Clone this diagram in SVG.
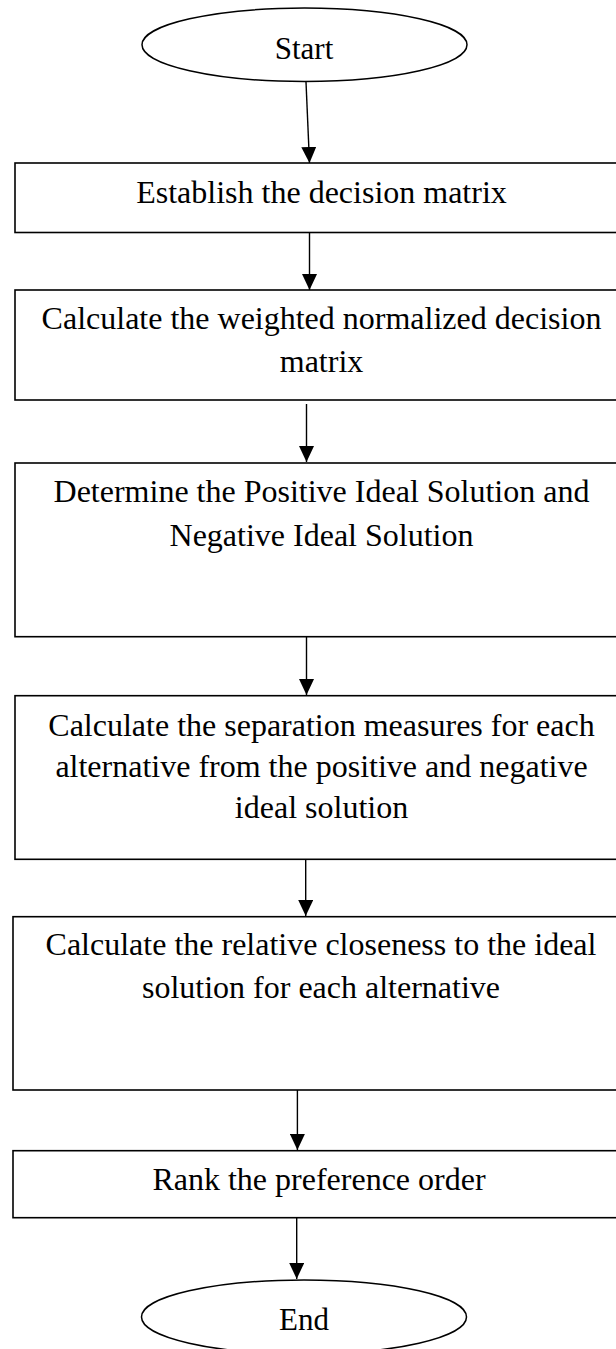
<svg xmlns="http://www.w3.org/2000/svg" width="616" height="1349" viewBox="0 0 616 1349">
<style>
.box{fill:#fff;stroke:#000;stroke-width:1.6}
.term{fill:#fff;stroke:#000;stroke-width:1.5}
.t{font-family:"Liberation Serif","Times New Roman",serif;font-size:32px;fill:#000;text-anchor:middle}
.te{font-family:"Liberation Serif","Times New Roman",serif;font-size:31px;fill:#000;text-anchor:middle}
.conn{stroke:#000;stroke-width:1.4;fill:none;marker-end:url(#ah)}
</style>
<defs>
<marker id="ah" markerUnits="userSpaceOnUse" markerWidth="16" markerHeight="15" refX="16" refY="7.5" orient="auto">
<path d="M0,0 L16,7.5 L0,15 z" fill="#000"/>
</marker>
</defs>
<rect width="616" height="1349" fill="#fff"/>
<g id="connectors">
<line class="conn" x1="306" y1="82" x2="309.5" y2="163"/>
<line class="conn" x1="309.5" y1="233" x2="309.5" y2="290"/>
<line class="conn" x1="306.5" y1="404" x2="306.5" y2="462"/>
<line class="conn" x1="306.5" y1="637" x2="306.5" y2="695"/>
<line class="conn" x1="305.7" y1="859" x2="305.7" y2="916"/>
<line class="conn" x1="297.4" y1="1090" x2="297.4" y2="1150"/>
<line class="conn" x1="296.7" y1="1218" x2="296.7" y2="1279"/>
</g>
<g id="start">
<ellipse class="term" cx="304.5" cy="44.8" rx="162.5" ry="36.7"/>
<text class="te" x="304" y="58.5">Start</text>
</g>
<g id="step1">
<rect class="box" x="15" y="163" width="613" height="69.5"/>
<text class="t" x="321.5" y="203">Establish the decision matrix</text>
</g>
<g id="step2">
<rect class="box" x="15" y="290" width="613" height="110"/>
<text class="t" x="321.5" y="329.3">Calculate the weighted normalized decision</text>
<text class="t" x="321.5" y="371.7">matrix</text>
</g>
<g id="step3">
<rect class="box" x="15" y="463" width="613" height="173.7"/>
<text class="t" x="321.5" y="501.7">Determine the Positive Ideal Solution and</text>
<text class="t" x="321.5" y="546">Negative Ideal Solution</text>
</g>
<g id="step4">
<rect class="box" x="15" y="695.7" width="613" height="163.6"/>
<text class="t" x="321.5" y="736">Calculate the separation measures for each</text>
<text class="t" x="321.5" y="776.7">alternative from the positive and negative</text>
<text class="t" x="321.5" y="818.3">ideal solution</text>
</g>
<g id="step5">
<rect class="box" x="13" y="916.7" width="615" height="173.3"/>
<text class="t" x="321" y="955">Calculate the relative closeness to the ideal</text>
<text class="t" x="321" y="998.3">solution for each alternative</text>
</g>
<g id="step6">
<rect class="box" x="13" y="1150.7" width="615" height="67"/>
<text class="t" x="319" y="1190">Rank the preference order</text>
</g>
<g id="end">
<ellipse class="term" cx="304" cy="1317" rx="162.5" ry="37"/>
<text class="te" x="304" y="1330">End</text>
</g>
</svg>
